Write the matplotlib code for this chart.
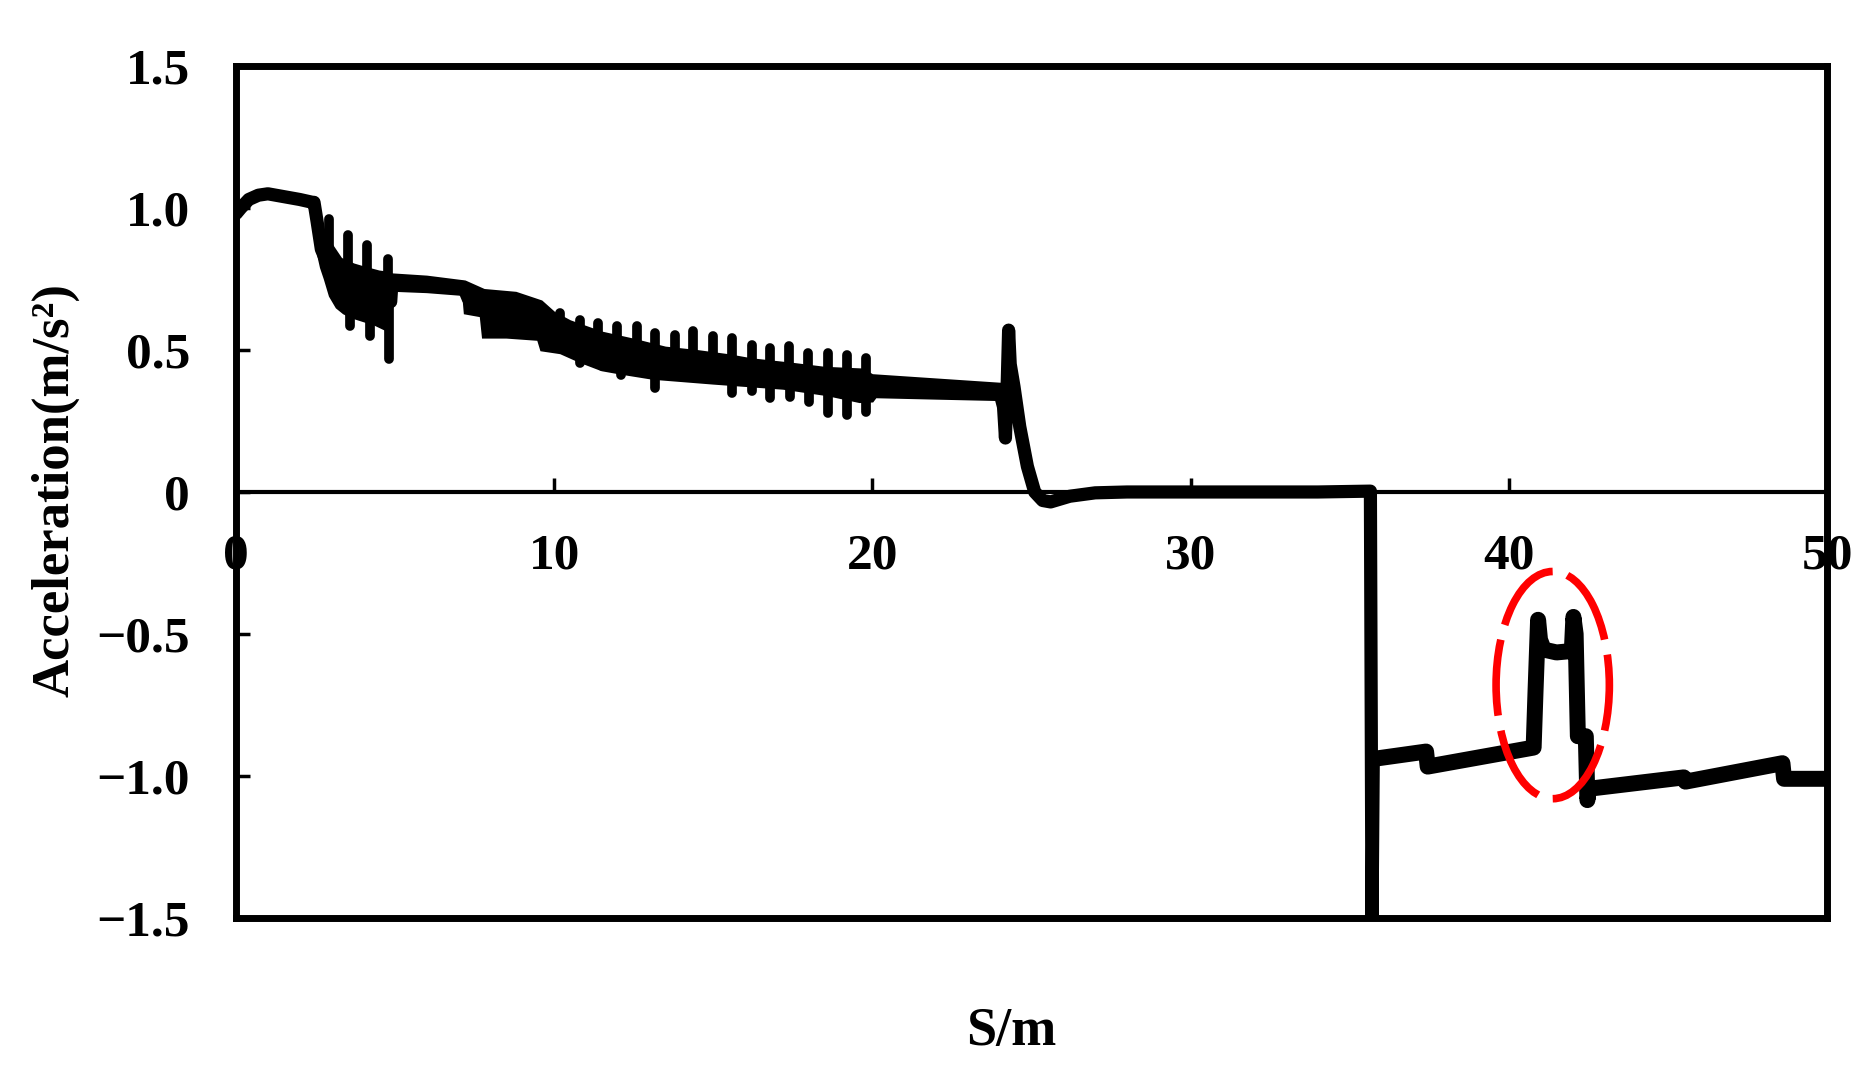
import numpy as np
import matplotlib.pyplot as plt
from matplotlib.patches import Ellipse

plt.rcParams['font.family'] = ['Liberation Serif', 'DejaVu Serif']
plt.rcParams['font.weight'] = 'bold'

# centre line of the acceleration trace (S in m, a in m/s^2)
curve_s = [0.0, 0.15, 0.4, 0.7, 1.0, 1.5, 2.0, 2.4,
           2.45, 2.55, 2.68, 3.0, 3.5, 4.0, 4.5, 4.86, 4.9, 6.0, 7.15, 7.3, 8.0, 9.0, 9.6,
           10.2, 11.5, 12.5, 13.5, 15.0, 16.5, 18.0, 19.5, 20.1, 22.0, 24.0,
           24.12, 24.18, 24.24, 24.28, 24.33, 24.45, 24.63, 24.87, 25.1, 25.35, 25.6,
           26.2, 27.0, 28.0, 30.0, 32.0, 34.0, 35.65, 35.7, 35.74,
           37.4, 37.45, 40.78, 40.84, 40.92, 40.98, 41.1, 41.5, 41.98, 42.03, 42.1, 42.17,
           42.42, 42.47, 42.52, 45.5, 45.55, 48.6, 48.65, 50.0]
curve_a = [0.98, 1.00, 1.03, 1.045, 1.05, 1.04, 1.03, 1.02,
           1.02, 0.95, 0.855, 0.77, 0.72, 0.70, 0.685, 0.67, 0.74, 0.73, 0.72, 0.68, 0.63, 0.62, 0.59,
           0.56, 0.495, 0.475, 0.455, 0.435, 0.415, 0.395, 0.375, 0.37, 0.362, 0.352,
           0.30, 0.19, 0.40, 0.57, 0.45, 0.37, 0.23, 0.09, 0.0, -0.03, -0.035,
           -0.015, -0.003, 0.0, 0.0, 0.0, 0.0, 0.003, -1.52, -0.94,
           -0.914, -0.967, -0.90, -0.70, -0.45, -0.52, -0.555, -0.565, -0.56, -0.44, -0.50, -0.86,
           -0.86, -1.085, -1.045, -1.005, -1.02, -0.955, -1.01, -1.01]

# noisy band (upper / lower envelope without the spikes)
hi_s = [2.40, 2.50, 2.58, 2.68, 2.85, 3.00, 3.30, 3.70, 4.00, 4.50, 4.85, 4.90, 6.00, 7.20, 7.80,
        8.80, 9.60, 10.0, 10.5, 11.5, 12.5, 13.5, 14.5, 15.5, 16.2, 17.5, 18.5, 19.7, 20.0,
        22.0, 24.0]
hi_a = [1.035, 1.03, 0.97, 0.93, 0.89, 0.87, 0.82, 0.80, 0.79, 0.775, 0.77, 0.765, 0.757, 0.74, 0.71,
        0.70, 0.67, 0.63, 0.60, 0.56, 0.535, 0.507, 0.495, 0.48, 0.466, 0.45, 0.436, 0.43, 0.41,
        0.395, 0.38]
lo_s = [2.40, 2.50, 2.58, 2.68, 2.80, 2.96, 3.17, 3.39, 3.67, 3.95, 4.37, 4.65, 4.85, 4.88, 6.00, 7.15,
        7.20, 7.70, 7.77, 8.50, 9.50, 9.60, 10.2, 10.8, 11.5, 12.1, 13.1, 15.0, 17.2, 18.6, 19.6,
        20.0, 20.1, 22.0, 24.0]
lo_a = [1.00, 0.98, 0.84, 0.79, 0.75, 0.69, 0.65, 0.63, 0.615, 0.605, 0.59, 0.575, 0.565, 0.71, 0.705, 0.695,
        0.63, 0.62, 0.545, 0.545, 0.537, 0.50, 0.49, 0.46, 0.43, 0.418, 0.40, 0.383, 0.365, 0.342, 0.318,
        0.32, 0.335, 0.33, 0.325]

# spike tips sticking out of the band
spike_up_s = [2.93, 3.53, 4.13, 4.76, 10.18, 10.81, 11.39, 11.96, 12.59, 13.17, 13.8, 14.37,
              15.0, 15.58, 16.2, 16.78, 17.39, 17.99, 18.61, 19.19, 19.8]
spike_up_a = [0.96, 0.905, 0.87, 0.82, 0.631, 0.607, 0.595, 0.584, 0.584, 0.56, 0.554, 0.566,
              0.548, 0.542, 0.519, 0.507, 0.513, 0.489, 0.489, 0.483, 0.472]
spike_dn_s = [3.16, 3.58, 4.21, 4.82, 10.81, 11.5, 12.1, 13.17, 15.58, 16.2, 16.78, 17.4,
              18.0, 18.61, 19.2, 19.8]
spike_dn_a = [0.678, 0.584, 0.548, 0.47, 0.454, 0.442, 0.413, 0.365, 0.348, 0.354, 0.33, 0.336,
              0.318, 0.277, 0.271, 0.283]

x_ticks = [0, 10, 20, 30, 40, 50]
y_ticks = [-1.5, -1.0, -0.5, 0, 0.5, 1.0, 1.5]
y_labels = ['\u22121.5', '\u22121.0', '\u22120.5', '0', '0.5', '1.0', '1.5']

fig = plt.figure(figsize=(18.75, 10.82), dpi=100)
ax = fig.add_axes([0.1259, 0.1516, 0.8485, 0.7874])

# band + line
ax.fill(np.r_[hi_s, lo_s[::-1]], np.r_[hi_a, lo_a[::-1]], color='black', lw=2)
ax.plot(curve_s, curve_a, color='black', lw=9.5, solid_joinstyle='round', solid_capstyle='round')
# the braking part after the drop looks a bit heavier in the original
s_arr = np.array(curve_s)
a_arr = np.array(curve_a)
late = s_arr >= 35.74
ax.plot(s_arr[late], a_arr[late], color='black', lw=11.5, solid_joinstyle='round', solid_capstyle='round')

base_up = np.interp(spike_up_s, curve_s, curve_a)
base_dn = np.interp(spike_dn_s, curve_s, curve_a)
for s, b, t in zip(spike_up_s, base_up, spike_up_a):
    ax.plot([s, s], [b, t], color='black', lw=7, solid_capstyle='round')
for s, b, t in zip(spike_dn_s, base_dn, spike_dn_a):
    ax.plot([s, s], [b, t], color='black', lw=7, solid_capstyle='round')

# red dashed ellipse around the bump
ell = Ellipse((41.38, -0.68), width=3.56, height=0.80, fill=False, edgecolor='#ff0000',
              lw=5.5, linestyle=(0, (10, 2)), zorder=5)
ax.add_patch(ell)

ax.set_xlim(0, 50)
ax.set_ylim(-1.5, 1.5)

# x axis sits on a=0, box bottom drawn separately
ax.spines['bottom'].set_position(('data', 0))
ax.spines['bottom'].set_linewidth(3)
for side in ['left', 'right', 'top']:
    ax.spines[side].set_linewidth(5)
ax.axhline(-1.5, color='black', lw=5, clip_on=False)

ax.set_xticks(x_ticks)
ax.set_xticklabels([str(v) for v in x_ticks])
ax.set_yticks(y_ticks)
ax.set_yticklabels(y_labels)
ax.tick_params(axis='x', direction='in', length=10, width=2.5, pad=30, labelsize=37)
ax.tick_params(axis='y', direction='in', length=10, width=2.5, pad=33, labelsize=37)
for lab in ax.get_xticklabels() + ax.get_yticklabels():
    lab.set_fontweight('bold')

fig.text(1011 / 1875, 1 - 1032 / 1082, 'S/m', ha='center', va='center', fontsize=39, fontweight='bold')
fig.text(55 / 1875, 1 - 490 / 1082, 'Acceleration(m/s\u00b2)', ha='center', va='center',
         rotation=90, fontsize=38, fontweight='bold')

fig.savefig('out.png', dpi=100)
